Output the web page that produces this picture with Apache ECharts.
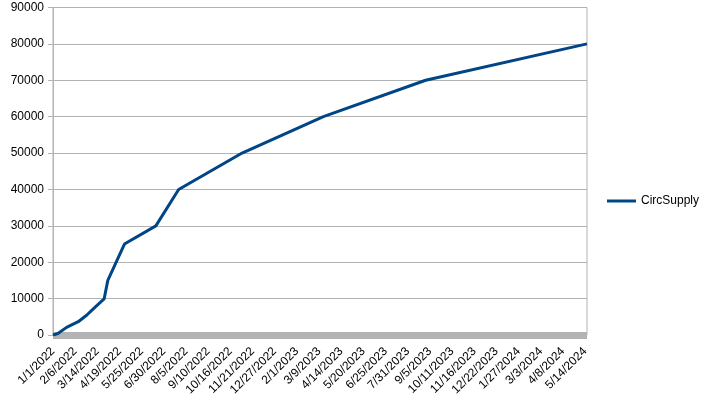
<!DOCTYPE html>
<html><head><meta charset="utf-8">
<script src="https://cdn.jsdelivr.net/npm/echarts@6/dist/echarts.min.js"></script>
<style>html,body{margin:0;padding:0;background:#fff}#c{width:709px;height:404px}</style>
</head><body><div id="c"></div>
<script>
// Category range (daily)
const startDate = '2022-01-01';
const endDate = '2024-05-17';
// Series key points (date, value)
const pointDates = ['2022-01-01','2022-01-09','2022-01-23','2022-02-11','2022-02-25','2022-03-10','2022-03-25','2022-03-31','2022-04-27','2022-06-17','2022-07-24','2022-11-04','2023-03-16','2023-08-29','2024-05-17'];
const pointValues = [0, 400, 2100, 3650, 5500, 7600, 9900, 15000, 25000, 30000, 40000, 50000, 60000, 70000, 80000];
const seriesName = 'CircSupply';
const yMin = 0, yMax = 90000, yStep = 10000;

function toUTC(s){const p=s.split('-');return Date.UTC(+p[0],+p[1]-1,+p[2]);}
const DAY = 86400000;
const t0 = toUTC(startDate), t1 = toUTC(endDate);
const categories = [];
for (let t = t0; t <= t1; t += DAY) {
  const d = new Date(t);
  categories.push((d.getUTCMonth()+1)+'/'+d.getUTCDate()+'/'+d.getUTCFullYear());
}
const data = categories.map(()=>null);
pointDates.forEach((s,i)=>{ data[Math.round((toUTC(s)-t0)/DAY)] = pointValues[i]; });

const font = 'Liberation Sans';
const chart = echarts.init(document.getElementById('c'));
chart.setOption({
  animation:false,
  backgroundColor:'#fff',
  textStyle:{fontFamily:font},
  grid:{left:53,right:122,top:7.5,bottom:69,show:true,borderColor:'#b3b3b3',borderWidth:1},
  legend:{
    data:[seriesName], left:607, top:195, orient:'vertical', padding:0,
    icon:'rect', itemWidth:29, itemHeight:3, itemGap:0,
    textStyle:{fontFamily:font,fontSize:12,color:'#000'}
  },
  xAxis:{
    type:'category', data:categories, boundaryGap:false, offset:3.5,
    axisLine:{lineStyle:{color:'#b3b3b3',width:7,cap:'butt'}},
    axisTick:{show:false},
    axisLabel:{interval:35, rotate:45, fontFamily:font, fontSize:12, color:'#000', margin:11},
    splitLine:{show:false}
  },
  yAxis:{
    type:'value', min:yMin, max:yMax, interval:yStep,
    axisLine:{show:true,lineStyle:{color:'#b3b3b3'}},
    axisTick:{show:true,length:5,lineStyle:{color:'#b3b3b3'}},
    axisLabel:{fontFamily:font,fontSize:12,color:'#000',margin:9,formatter:(v)=>String(v)},
    splitLine:{show:true,lineStyle:{color:'#b3b3b3',width:1}}
  },
  series:[{
    name:seriesName, type:'line', data:data, connectNulls:true,
    symbol:'none', smooth:false,
    lineStyle:{color:'#004586',width:3}, itemStyle:{color:'#004586'}
  }]
});
</script></body></html>
